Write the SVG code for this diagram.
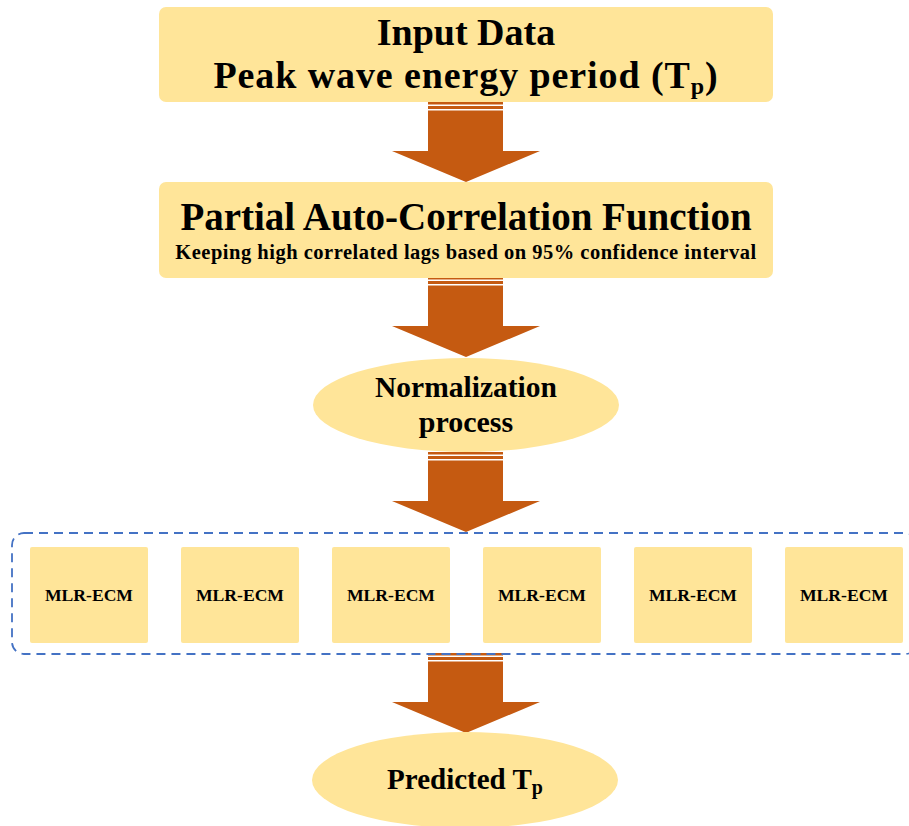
<svg xmlns="http://www.w3.org/2000/svg" width="909" height="826" viewBox="0 0 909 826">
<defs>
<style>
.box{fill:#FFE599}
.arr{fill:#C55A11}
.t{font-family:"Liberation Serif","DejaVu Serif",serif;font-weight:bold;fill:#000;text-anchor:middle}
.dash{fill:none;stroke:#4472C4;stroke-width:1.8;stroke-dasharray:9,6}
</style>
<g id="arrowShape">
<rect x="-38" y="0" width="75" height="2.5" class="arr"/>
<rect x="-38" y="4" width="75" height="3" class="arr"/>
<path d="M-38 8.5 H37 V49 H74 L0 80 L-74 49 H-38 Z" class="arr"/>
</g>
</defs>
<rect width="909" height="826" fill="#fff"/>
<g id="connectors">
<use href="#arrowShape" x="466" y="102"/>
<use href="#arrowShape" x="466" y="277"/>
<use href="#arrowShape" x="466" y="452"/>
<use href="#arrowShape" x="466" y="653"/>
</g>
<g id="input">
<rect x="159" y="7" width="614" height="95" rx="7" class="box"/>
<text x="466" y="45" class="t" font-size="38">Input Data</text>
<text x="466" y="88" class="t" font-size="38" letter-spacing="0.9">Peak wave energy period (T<tspan font-size="24" dy="6">p</tspan><tspan dy="-6">)</tspan></text>
</g>
<g id="pacf">
<rect x="159" y="182" width="614" height="96" rx="7" class="box"/>
<text x="466" y="230" class="t" font-size="39">Partial Auto-Correlation Function</text>
<text x="466" y="259" class="t" font-size="20.5" letter-spacing="0.5">Keeping high correlated lags based on 95% confidence interval</text>
</g>
<g id="norm">
<ellipse cx="466" cy="405" rx="153" ry="47" class="box"/>
<text x="466" y="397" class="t" font-size="29.5">Normalization</text>
<text x="466" y="432" class="t" font-size="30">process</text>
</g>
<g id="ensemble">
<rect x="12" y="533" width="905" height="121" rx="12" class="dash"/>
</g>
<g id="mlr1"><rect x="30" y="547" width="118" height="96" rx="2" class="box"/><text x="89" y="601" class="t" font-size="17.6">MLR-ECM</text></g>
<g id="mlr2"><rect x="181" y="547" width="118" height="96" rx="2" class="box"/><text x="240" y="601" class="t" font-size="17.6">MLR-ECM</text></g>
<g id="mlr3"><rect x="332" y="547" width="118" height="96" rx="2" class="box"/><text x="391" y="601" class="t" font-size="17.6">MLR-ECM</text></g>
<g id="mlr4"><rect x="483" y="547" width="118" height="96" rx="2" class="box"/><text x="542" y="601" class="t" font-size="17.6">MLR-ECM</text></g>
<g id="mlr5"><rect x="634" y="547" width="118" height="96" rx="2" class="box"/><text x="693" y="601" class="t" font-size="17.6">MLR-ECM</text></g>
<g id="mlr6"><rect x="785" y="547" width="118" height="96" rx="2" class="box"/><text x="844" y="601" class="t" font-size="17.6">MLR-ECM</text></g>
<g id="predicted">
<ellipse cx="465" cy="780" rx="153" ry="48" class="box"/>
<text x="465" y="789" class="t" font-size="29">Predicted T<tspan font-size="20" dy="5">p</tspan></text>
</g>
</svg>
